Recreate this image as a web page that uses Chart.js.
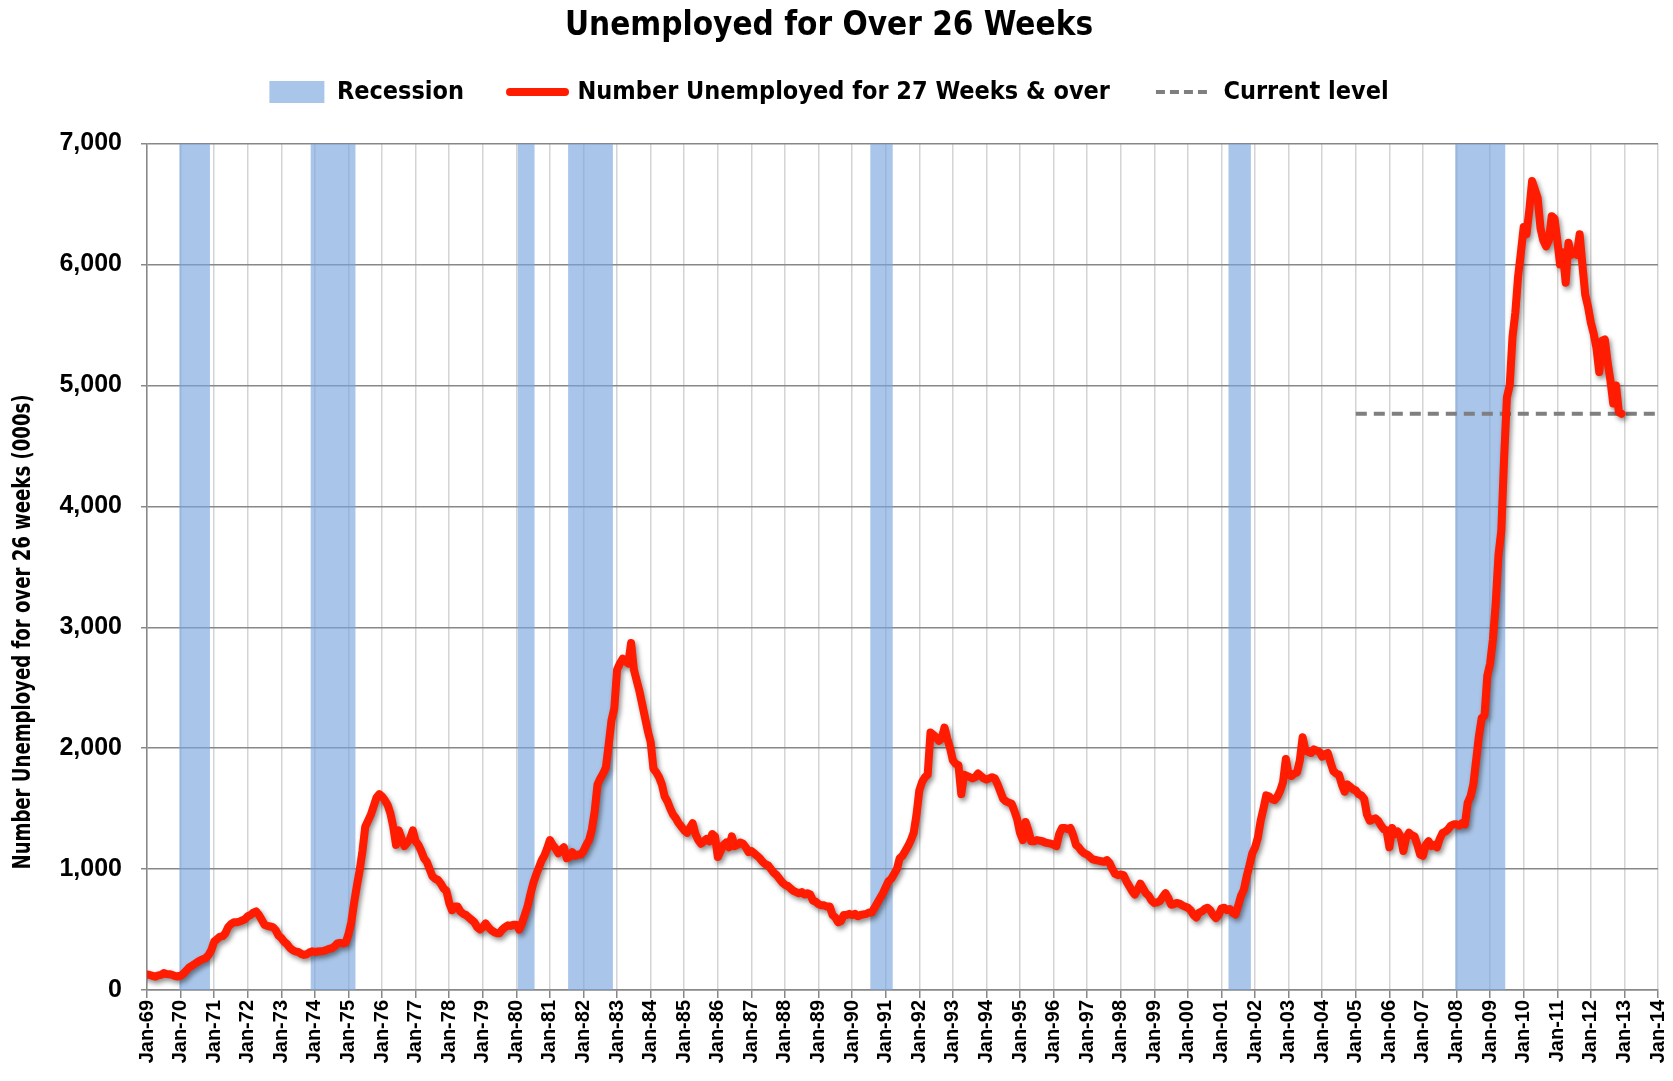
<!DOCTYPE html>
<html>
<head>
<meta charset="utf-8">
<script src="https://cdn.jsdelivr.net/npm/chart.js@4.4.0/dist/chart.umd.min.js"></script>
<style>
  html, body { margin: 0; padding: 0; background: #ffffff; }
  #wrap { width: 1673px; height: 1081px; }
</style>
</head>
<body>
<div id="wrap"><canvas id="c" width="1673" height="1081"></canvas></div>
<script>
// ---- DATA ----
const startYear = 1969; // first monthly value = Jan 1969
// Number unemployed for 27 weeks & over (thousands), monthly Jan..Dec per row
const unemployed27wk = [
  128, 124, 117, 110, 121, 125, 140, 132, 130, 125, 116, 112,        // 1969
  118, 135, 160, 185, 200, 215, 230, 245, 255, 265, 290, 330,        // 1970
  400, 420, 440, 445, 470, 520, 545, 560, 560, 565, 575, 585,        // 1971
  610, 620, 640, 650, 620, 580, 540, 530, 525, 520, 495, 450,        // 1972
  430, 400, 380, 350, 330, 320, 315, 300, 290, 295, 310, 320,        // 1973
  315, 318, 320, 322, 330, 340, 345, 360, 385, 390, 385, 390,        // 1974
  460, 560, 720, 860, 990, 1150, 1350, 1400, 1450, 1520, 1590, 1620, // 1975
  1600, 1570, 1530, 1460, 1350, 1200, 1320, 1250, 1190, 1220, 1250, 1320, // 1976
  1230, 1200, 1150, 1090, 1060, 1000, 940, 920, 910, 880, 840, 820,  // 1977
  720, 660, 690, 690, 650, 630, 620, 600, 580, 560, 520, 500,        // 1978
  520, 550, 520, 495, 480, 470, 470, 500, 520, 535, 530, 540,        // 1979
  540, 500, 550, 620, 690, 790, 880, 950, 1010, 1070, 1110, 1170,    // 1980
  1240, 1200, 1170, 1130, 1160, 1180, 1090, 1100, 1140, 1110, 1120, 1120, // 1981
  1150, 1200, 1240, 1330, 1480, 1700, 1750, 1790, 1840, 2030, 2230, 2330, // 1982
  2650, 2700, 2740, 2720, 2700, 2870, 2650, 2560, 2470, 2360, 2250, 2140, // 1983
  2050, 1830, 1800, 1760, 1700, 1600, 1560, 1500, 1450, 1420, 1380, 1350, // 1984
  1320, 1300, 1340, 1380, 1290, 1240, 1210, 1230, 1250, 1230, 1290, 1270, // 1985
  1100, 1150, 1200, 1220, 1180, 1270, 1190, 1200, 1220, 1210, 1180, 1140, // 1986
  1150, 1130, 1110, 1090, 1060, 1040, 1030, 1000, 970, 950, 920, 890, // 1987
  870, 860, 840, 820, 810, 800, 810, 790, 800, 790, 740, 730,        // 1988
  710, 700, 700, 690, 690, 620, 600, 560, 570, 620, 620, 630,        // 1989
  620, 630, 610, 620, 625, 630, 640, 640, 680, 720, 760, 800,        // 1990
  850, 900, 920, 960, 1000, 1090, 1110, 1150, 1190, 1240, 1300, 1450, // 1991
  1650, 1720, 1760, 1780, 2130, 2110, 2090, 2060, 2080, 2170, 2080, 2000, // 1992
  1900, 1870, 1860, 1620, 1780, 1770, 1760, 1750, 1760, 1790, 1770, 1750, // 1993
  1740, 1750, 1760, 1750, 1700, 1640, 1580, 1560, 1550, 1540, 1480, 1410, // 1994
  1300, 1240, 1390, 1320, 1230, 1230, 1240, 1235, 1230, 1220, 1215, 1210, // 1995
  1200, 1190, 1290, 1340, 1340, 1330, 1340, 1280, 1200, 1180, 1150, 1130, // 1996
  1120, 1100, 1080, 1075, 1070, 1065, 1060, 1075, 1050, 1000, 960, 950, // 1997
  955, 950, 900, 860, 820, 790, 830, 880, 840, 800, 780, 740,        // 1998
  720, 725, 735, 770, 800, 760, 705, 710, 720, 715, 700, 690,        // 1999
  680, 660, 620, 600, 640, 650, 670, 680, 660, 620, 595, 620,        // 2000
  675, 680, 660, 670, 640, 625, 700, 780, 830, 940, 1030, 1130,      // 2001
  1180, 1260, 1400, 1500, 1610, 1600, 1580, 1570, 1600, 1650, 1720, 1910, // 2002
  1780, 1770, 1790, 1800, 1900, 2090, 1980, 1970, 1960, 1990, 1980, 1970, // 2003
  1930, 1950, 1960, 1880, 1810, 1790, 1780, 1700, 1640, 1700, 1680, 1660, // 2004
  1650, 1620, 1610, 1580, 1450, 1400, 1410, 1420, 1400, 1360, 1330, 1320, // 2005
  1180, 1340, 1290, 1310, 1270, 1150, 1260, 1300, 1280, 1270, 1200, 1120, // 2006
  1110, 1200, 1230, 1190, 1200, 1180, 1250, 1300, 1310, 1330, 1360, 1370, // 2007
  1370, 1360, 1380, 1370, 1550, 1600, 1700, 1900, 2100, 2250, 2270, 2600, // 2008
  2700, 2900, 3200, 3600, 3800, 4400, 4900, 5000, 5400, 5600, 5900, 6100, // 2009
  6310, 6250, 6450, 6690, 6620, 6550, 6300, 6200, 6150, 6200, 6400, 6380, // 2010
  6200, 6000, 6100, 5850, 6180, 6080, 6100, 6080, 6250, 5990, 5750, 5650, // 2011
  5520, 5430, 5310, 5110, 5370, 5380, 5190, 5040, 4850, 5000, 4780, 4766  // 2012
];
// NBER recessions (start month, end month)
const recessionStart = ["1969-12", "1973-11", "1980-01", "1981-07", "1990-07", "2001-03", "2007-12"];
const recessionEnd   = ["1970-11", "1975-03", "1980-07", "1982-11", "1991-03", "2001-11", "2009-06"];
const currentLevel = 4766;
const currentLevelFrom = 2005;
const axisFirstYear = 1969, axisLastYear = 2014;
const yTickValues = [0, 1000, 2000, 3000, 4000, 5000, 6000, 7000];
const yAxisTitle = 'Number Unemployed for over 26 weeks (000s)';

// ---- BUILD ----
const monthToNum = s => { const [y, m] = s.split("-").map(Number); return y + (m - 1 + 0.5) / 12; };
const linePoints = unemployed27wk.map((v, i) => ({ x: startYear + i / 12, y: v }));
const yMax = yTickValues[yTickValues.length - 1];
const recessionPoints = [];
recessionStart.forEach((s, i) => {
  const a = monthToNum(s), b = monthToNum(recessionEnd[i]);
  recessionPoints.push({ x: a, y: 0 }, { x: a, y: yMax }, { x: b, y: yMax }, { x: b, y: 0 });
});
const currentPoints = [{ x: currentLevelFrom, y: currentLevel }, { x: axisLastYear, y: currentLevel }];

const NARROW = "'Liberation Sans Narrow', 'DejaVu Sans Condensed', 'Roboto Condensed', 'Liberation Sans', sans-serif";
const ARIAL = "'Liberation Sans', Arial, sans-serif";

const shadowPlugin = {
  id: 'lineShadow',
  beforeDatasetDraw(chart, args) {
    if (args.index === 1) {
      const ctx = chart.ctx;
      ctx.save();
      ctx.shadowColor = 'rgba(0,0,0,0.45)';
      ctx.shadowBlur = 5;
      ctx.shadowOffsetX = 2;
      ctx.shadowOffsetY = 3;
    }
  },
  afterDatasetDraw(chart, args) {
    if (args.index === 1) chart.ctx.restore();
  }
};

// empty layout box that adds a gap between the legend and the plot area
const spacerPlugin = {
  id: 'legendSpacer',
  beforeInit(chart) {
    const box = {
      position: 'top', weight: 500, fullSize: true, options: {},
      left: 0, top: 0, right: 0, bottom: 0, width: 0, height: 0,
      isHorizontal() { return true; },
      getPadding() { return { left: 0, right: 0, top: 0, bottom: 0 }; },
      update(maxWidth) { this.width = maxWidth; this.height = 29; return this.height; },
      draw() {}
    };
    Chart.layouts.addBox(chart, box);
  }
};

// vertical axis title, condensed like the original and set a little below centre
const yTitlePlugin = {
  id: 'yTitle',
  afterDraw(chart) {
    const ctx = chart.ctx, a = chart.chartArea;
    ctx.save();
    ctx.font = "bold 24px " + NARROW;
    const w = ctx.measureText(yAxisTitle).width;
    const sx = 475 / w;
    const cy = a.top + 0.577 * (a.bottom - a.top);
    ctx.translate(24, cy);
    ctx.rotate(-Math.PI / 2);
    ctx.scale(sx, 1);
    ctx.textAlign = 'center';
    ctx.textBaseline = 'middle';
    ctx.fillStyle = '#000';
    ctx.fillText(yAxisTitle, 0, 0);
    ctx.restore();
  }
};

new Chart(document.getElementById('c'), {
  type: 'line',
  data: {
    datasets: [
      {
        label: 'Recession',
        data: recessionPoints,
        backgroundColor: 'rgba(120,164,221,0.64)',
        borderColor: 'rgba(0,0,0,0)',
        borderWidth: 0,
        pointRadius: 0,
        fill: 'origin',
        tension: 0,
        order: 3,
        pointStyle: 'rect'
      },
      {
        label: 'Number Unemployed for 27 Weeks & over',
        data: linePoints,
        borderColor: 'rgb(255,28,0)',
        backgroundColor: 'rgb(255,28,0)',
        borderWidth: 8,
        borderJoinStyle: 'round',
        borderCapStyle: 'round',
        pointRadius: 0,
        fill: false,
        tension: 0,
        order: 1,
        pointStyle: 'line'
      },
      {
        label: 'Current level',
        data: currentPoints,
        borderColor: '#7f7f7f',
        backgroundColor: '#7f7f7f',
        borderWidth: 4,
        borderDash: [11, 7],
        pointRadius: 0,
        fill: false,
        order: 2,
        pointStyle: 'line'
      }
    ]
  },
  options: {
    responsive: false,
    animation: false,
    devicePixelRatio: 1,
    layout: { padding: { top: 7, right: 15, left: 0, bottom: 0 } },
    plugins: {
      title: {
        display: true,
        text: 'Unemployed for Over 26 Weeks',
        color: '#000',
        font: { family: NARROW, size: 33, weight: 'bold', lineHeight: 1.2 },
        padding: { top: 0, bottom: -13 }
      },
      legend: {
        display: true,
        position: 'top',
        labels: {
          usePointStyle: true,
          pointStyleWidth: 55,
          boxHeight: 22,
          color: '#000',
          font: { family: NARROW, size: 25, weight: 'bold' },
          padding: 46,
          sort: (a, b) => a.datasetIndex - b.datasetIndex,
          generateLabels: (chart) => {
            const items = Chart.defaults.plugins.legend.labels.generateLabels(chart);
            items.forEach(it => {
              if (it.datasetIndex === 0) { it.lineWidth = 0; }
              if (it.datasetIndex === 1) { it.lineWidth = 8; it.lineCap = 'round'; it.strokeStyle = 'rgb(255,28,0)'; }
              if (it.datasetIndex === 2) { it.lineWidth = 4; it.lineDash = [9, 5]; it.lineCap = 'butt'; it.strokeStyle = '#7f7f7f'; }
            });
            return items;
          }
        }
      },
      tooltip: { enabled: false }
    },
    scales: {
      x: {
        type: 'linear',
        min: axisFirstYear,
        max: axisLastYear,
        afterBuildTicks: (scale) => {
          const t = [];
          for (let yv = axisFirstYear; yv <= axisLastYear; yv++) t.push({ value: yv });
          scale.ticks = t;
        },
        afterFit: (scale) => { scale.height = 91; scale.paddingRight = 0; scale.paddingLeft = 0; },
        ticks: {
          autoSkip: false,
          minRotation: 90,
          maxRotation: 90,
          padding: 2,
          color: '#000',
          font: { family: ARIAL, size: 20, weight: 'bold' },
          callback: (v) => 'Jan-' + String(v).slice(2)
        },
        grid: {
          color: '#d4d4d4',
          lineWidth: 1.5,
          tickColor: '#888888',
          tickLength: 8,
          drawTicks: true
        },
        border: { color: '#888888', width: 1.5 }
      },
      y: {
        type: 'linear',
        min: 0,
        max: yMax,
        afterBuildTicks: (scale) => { scale.ticks = yTickValues.map(v => ({ value: v })); },
        afterFit: (scale) => { scale.width = 147; },
        ticks: {
          padding: 19,
          color: '#000',
          font: { family: ARIAL, size: 25, weight: 'bold' },
          callback: (v) => v.toLocaleString('en-US')
        },
        grid: {
          color: '#888888',
          lineWidth: 1.5,
          tickColor: '#888888',
          tickLength: 6
        },
        border: { color: '#888888', width: 1.5 },
        title: { display: false }
      }
    }
  },
  plugins: [shadowPlugin, spacerPlugin, yTitlePlugin]
});
</script>
</body>
</html>
